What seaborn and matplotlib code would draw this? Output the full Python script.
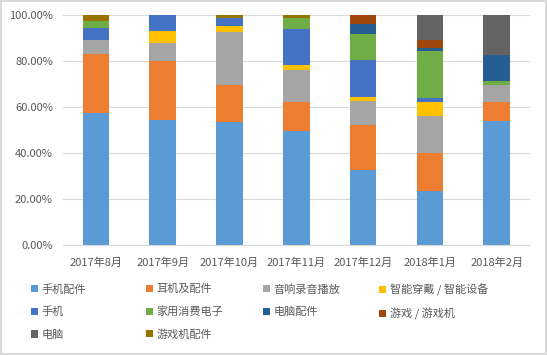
import matplotlib
matplotlib.use("Agg")
import matplotlib.pyplot as plt
import seaborn as sns
import numpy as np
import pandas as pd
from matplotlib.patches import Patch
from matplotlib.ticker import FuncFormatter

months = ["2017年8月", "2017年9月", "2017年10月", "2017年11月", "2017年12月", "2018年1月", "2018年2月"]

series_names = ["手机配件", "耳机及配件", "音响录音播放", "智能穿戴 / 智能设备", "手机",
                "家用消费电子", "电脑配件", "游戏 / 游戏机", "电脑", "游戏机配件"]

phone_acc   = [57.3, 54.3, 53.6, 49.6, 32.6, 23.6, 53.9]
earphones   = [25.8, 25.7, 16.0, 12.5, 19.6, 16.3, 8.1]
audio       = [6.1, 7.7, 22.9, 13.9, 10.4, 16.2, 7.5]
wearables   = [0.0, 5.5, 2.9, 2.3, 1.9, 6.0, 0.0]
phones      = [5.3, 6.8, 3.5, 15.7, 15.9, 2.0, 0.2]
home_elec   = [2.9, 0.0, 0.0, 4.9, 11.3, 20.4, 1.4]
pc_acc      = [0.0, 0.0, 0.0, 0.0, 4.6, 1.0, 11.6]
games       = [0.0, 0.0, 0.0, 0.0, 3.6, 3.6, 0.0]
computers   = [0.0, 0.0, 0.0, 0.0, 0.0, 10.9, 17.4]
game_acc    = [2.6, 0.0, 1.2, 1.1, 0.0, 0.0, 0.0]

series_values = [phone_acc, earphones, audio, wearables, phones,
                 home_elec, pc_acc, games, computers, game_acc]

colors = ["#5B9BD5", "#ED7D31", "#A5A5A5", "#FFC000", "#4472C4",
          "#70AD47", "#255E91", "#9E480E", "#636363", "#997300"]

sns.set_theme(style="white")
plt.rcParams['font.family'] = ['Noto Sans CJK SC', 'DejaVu Sans']

fig = plt.figure(figsize=(5.47, 3.55), dpi=100)
fig.patch.set_facecolor("white")
fig.patch.set_edgecolor("#D9D9D9")
fig.patch.set_linewidth(1.5)
ax = fig.add_axes([0.1144, 0.3099, 0.969 - 0.1144, 0.9577 - 0.3099])

bottom = np.zeros(len(months))
for name, vals, c in zip(series_names, series_values, colors):
    df = pd.DataFrame({"month": months, "value": np.array(vals) / 100.0})
    sns.barplot(data=df, x="month", y="value", order=months, color=c,
                width=0.4, bottom=bottom, ax=ax, saturation=1, linewidth=0,
                errorbar=None)
    bottom = bottom + np.array(vals) / 100.0

ax.set_xlim(-0.5, 6.5)
ax.set_ylim(0, 1.0)
ax.set_yticks(np.arange(0, 1.01, 0.2))
ax.yaxis.set_major_formatter(FuncFormatter(lambda v, p: f"{v*100:.2f}%"))
ax.set_xlabel("")
ax.set_ylabel("")
ax.grid(axis="y", color="#D9D9D9", linewidth=0.8)
ax.set_axisbelow(True)
for s in ["top", "right", "left"]:
    ax.spines[s].set_visible(False)
ax.spines["bottom"].set_color("#D9D9D9")
ax.spines["bottom"].set_linewidth(0.8)
ax.tick_params(axis="both", length=0, labelsize=8, labelcolor="#595959")
ax.tick_params(axis="x", pad=9)
ax.tick_params(axis="y", pad=7)

# legend: four columns placed at Excel-like fixed positions
handles = [Patch(facecolor=c, edgecolor="none") for c in colors]
col_items = [[0, 4, 8], [1, 5, 9], [2, 6], [3, 7]]
col_x = [31, 146, 263, 379]
W, H = 547, 355
for xs, idxs in zip(col_x, col_items):
    leg = fig.legend([handles[i] for i in idxs], [series_names[i] for i in idxs],
                     loc="upper left", bbox_to_anchor=(xs / W, 1 - 284 / H),
                     frameon=False, fontsize=8, handlelength=0.6, handleheight=0.6,
                     handletextpad=0.35, labelspacing=1.08, borderaxespad=0,
                     borderpad=0)
    for t in leg.get_texts():
        t.set_color("#595959")

fig.savefig("out.png", dpi=100, facecolor="white")
